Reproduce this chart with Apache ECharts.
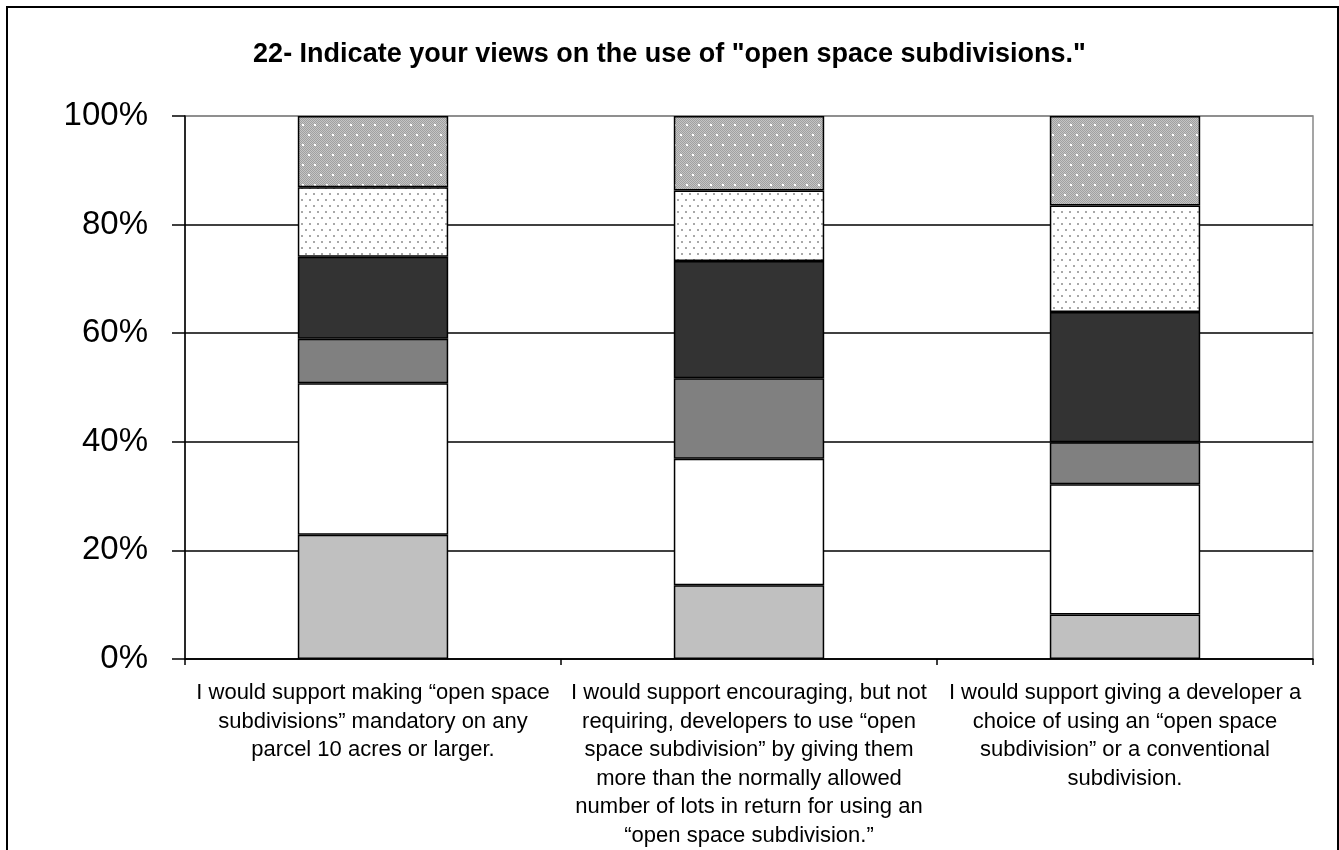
<!DOCTYPE html>
<html>
<head>
<meta charset="utf-8">
<script src="https://cdn.jsdelivr.net/npm/echarts@6/dist/echarts.min.js"></script>
<style>html,body{margin:0;padding:0;background:#fff;}#chart{width:1339px;height:850px;}</style>
</head>
<body>
<div id="chart"></div>
<script>
const titleText = '22- Indicate your views on the use of "open space subdivisions."';
const categories = [
  'I would support making \u201copen space\nsubdivisions\u201d mandatory on any\nparcel 10 acres or larger.',
  'I would support encouraging, but not\nrequiring, developers to use \u201copen\nspace subdivision\u201d by giving them\nmore than the normally allowed\nnumber of lots in return for using an\n\u201copen space subdivision.\u201d',
  'I would support giving a developer a\nchoice of using an \u201copen space\nsubdivision\u201d or a conventional\nsubdivision.'
];
const seriesNames = ['Response 1', 'Response 2', 'Response 3', 'Response 4', 'Response 5', 'Response 6'];
const response1 = [22.9, 13.6, 8.2];
const response2 = [27.9, 23.3, 24.0];
const response3 = [8.2, 14.8, 7.7];
const response4 = [15.1, 21.6, 24.0];
const response5 = [12.8, 13.0, 19.6];
const response6 = [13.1, 13.7, 16.5];
const yTicks = [0, 20, 40, 60, 80, 100];

function lightDots() {
  const c = document.createElement('canvas');
  c.width = 8; c.height = 12;
  const g = c.getContext('2d');
  g.fillStyle = '#ffffff'; g.fillRect(0, 0, 8, 12);
  g.fillStyle = '#a8a8a8';
  g.fillRect(1, 1, 2, 2);
  g.fillRect(5, 7, 2, 2);
  return c;
}
function darkDots() {
  const c = document.createElement('canvas');
  c.width = 12; c.height = 20;
  const g = c.getContext('2d');
  for (let y = 0; y < 20; y++) {
    for (let x = 0; x < 12; x++) {
      g.fillStyle = ((x + y) % 2 === 0) ? '#a0a0a0' : '#c4c4c4';
      g.fillRect(x, y, 1, 1);
    }
  }
  g.fillStyle = '#ffffff';
  g.fillRect(2, 4, 2, 2);
  g.fillRect(8, 14, 2, 2);
  return c;
}

const fills = [
  '#c0c0c0',
  '#ffffff',
  '#808080',
  '#333333',
  { image: lightDots(), repeat: 'repeat' },
  { image: darkDots(), repeat: 'repeat' }
];
const dataSets = [response1, response2, response3, response4, response5, response6];
const FONT = '"Liberation Sans", Arial, sans-serif';

const chart = echarts.init(document.getElementById('chart'), null, { renderer: 'canvas' });
chart.setOption({
  animation: false,
  backgroundColor: '#ffffff',
  title: {
    text: titleText,
    left: 'center',
    top: 36,
    textStyle: { fontFamily: FONT, fontSize: 27, fontWeight: 'bold', color: '#000' }
  },
  graphic: [{
    type: 'rect',
    shape: { x: 7, y: 7, width: 1331, height: 900 },
    style: { fill: 'none', stroke: '#000', lineWidth: 2 },
    silent: true
  }],
  grid: {
    left: 185, right: 26, top: 116, bottom: 188.5,
    show: true, borderColor: '#888', borderWidth: 1.5, backgroundColor: 'transparent'
  },
  xAxis: {
    type: 'category',
    data: categories,
    axisLine: { lineStyle: { color: '#000', width: 1.5 } },
    axisTick: { show: true, length: 6, lineStyle: { color: '#000', width: 1.5 } },
    axisLabel: {
      interval: 0, margin: 20, color: '#000', fontFamily: FONT, fontSize: 22, lineHeight: 28.5, align: 'center'
    }
  },
  yAxis: {
    type: 'value',
    min: yTicks[0], max: yTicks[yTicks.length - 1], interval: 20,
    axisLine: { show: true, lineStyle: { color: '#000', width: 1.5 } },
    axisTick: { show: true, length: 13, lineStyle: { color: '#000', width: 1.5 } },
    axisLabel: { formatter: '{value}%', margin: 37, color: '#000', fontFamily: FONT, fontSize: 33 },
    splitLine: { show: true, lineStyle: { color: ['#000', '#000', '#000', '#000', '#000', '#888'], width: 1.5 } }
  },
  series: dataSets.map((d, i) => ({
    name: seriesNames[i],
    type: 'bar',
    stack: 'total',
    barWidth: '40%',
    data: d,
    itemStyle: { color: fills[i], borderColor: '#000', borderWidth: 1.5 }
  }))
});
</script>
</body>
</html>
